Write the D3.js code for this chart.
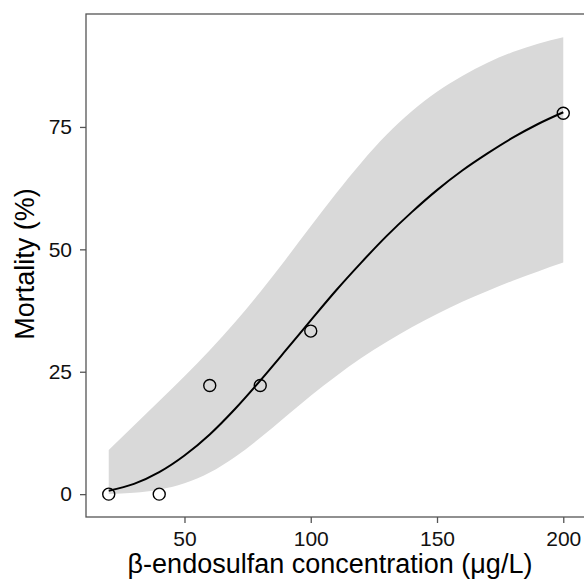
<!DOCTYPE html>
<html>
<head>
<meta charset="utf-8">
<script src="https://cdn.jsdelivr.net/npm/d3@7"></script>
<style>
	body { margin: 0; background: #fff; }
	text { font-family: "Liberation Sans", Arial, sans-serif; }
</style>
</head>
<body>
<div id="chart"></div>
<script>
// observed mortality
var doses = [20, 40, 60, 80, 100, 200];
var mortality = [0, 0, 22.2, 22.2, 33.3, 77.8];

// fitted curve and confidence band
var fitDose = [20, 30, 40, 50, 60, 70, 80, 90, 100, 110, 120, 130, 140, 150, 160, 170, 180, 190, 200];
var fitMean = [0.7, 2.1, 4.5, 7.9, 12.2, 17.4, 23.2, 29.3, 35.5, 41.6, 47.3, 52.7, 57.6, 62.1, 66.1, 69.6, 72.8, 75.6, 78.0];
var fitUpper = [9.0, 14.0, 19.0, 24.1, 29.4, 35.1, 41.3, 47.9, 54.7, 61.4, 67.7, 73.4, 78.2, 82.2, 85.4, 88.1, 90.3, 92.0, 93.3];
var fitLower = [0.05, 0.3, 0.9, 2.2, 4.4, 7.6, 11.5, 15.8, 20.1, 24.1, 27.8, 31.1, 34.1, 36.8, 39.3, 41.5, 43.6, 45.5, 47.3];

var xTicks = [50, 100, 150, 200];
var yTicks = [0, 25, 50, 75];

var width = 584, height = 583;
var panel = {left: 86, top: 14, right: 586, bottom: 517};

var svg = d3.select("#chart")
	.append("svg")
	.attr("width", width)
	.attr("height", height);

var x = d3.scaleLinear().domain([11, 209]).range([panel.left, panel.right]);
var y = d3.scaleLinear().domain([-4.67, 98.07]).range([panel.bottom, panel.top]);

var band = fitDose.map(function(d, i) {
	return {x: d, m: fitMean[i], lo: fitLower[i], hi: fitUpper[i]};
});

// confidence ribbon
svg.append("path")
	.datum(band)
	.attr("fill", "#d9d9d9")
	.attr("d", d3.area()
		.x(function(d) { return x(d.x); })
		.y0(function(d) { return y(d.lo); })
		.y1(function(d) { return y(d.hi); })
		.curve(d3.curveMonotoneX));

// fitted line
svg.append("path")
	.datum(band)
	.attr("fill", "none")
	.attr("stroke", "#000")
	.attr("stroke-width", 2)
	.attr("d", d3.line()
		.x(function(d) { return x(d.x); })
		.y(function(d) { return y(d.m); })
		.curve(d3.curveMonotoneX));

// points
svg.selectAll("circle.obs")
	.data(doses)
	.enter().append("circle")
	.attr("class", "obs")
	.attr("cx", function(d) { return x(d); })
	.attr("cy", function(d, i) { return y(mortality[i]); })
	.attr("r", 6)
	.attr("fill", "none")
	.attr("stroke", "#000")
	.attr("stroke-width", 1.4);

// panel border
svg.append("rect")
	.attr("x", panel.left)
	.attr("y", panel.top)
	.attr("width", panel.right - panel.left)
	.attr("height", panel.bottom - panel.top)
	.attr("fill", "none")
	.attr("stroke", "#555")
	.attr("stroke-width", 1.3);

// axes
var xAxis = svg.append("g")
	.attr("transform", "translate(0," + panel.bottom + ")")
	.call(d3.axisBottom(x).tickValues(xTicks).tickSize(6).tickPadding(8));
var yAxis = svg.append("g")
	.attr("transform", "translate(" + panel.left + ",0)")
	.call(d3.axisLeft(y).tickValues(yTicks).tickSize(6).tickPadding(8));

[xAxis, yAxis].forEach(function(g) {
	g.select(".domain").remove();
	g.selectAll(".tick line").attr("stroke", "#555").attr("stroke-width", 1.3);
	g.selectAll(".tick text")
		.attr("fill", "#111")
		.style("font-size", "21px")
		.style("font-family", "'Liberation Sans', Arial, sans-serif");
});

// axis titles
svg.append("text")
	.attr("x", 330)
	.attr("y", 573)
	.attr("text-anchor", "middle")
	.attr("fill", "#000")
	.style("font-size", "27px")
	.text("β-endosulfan concentration (μg/L)");

svg.append("text")
	.attr("transform", "translate(34,264) rotate(-90)")
	.attr("text-anchor", "middle")
	.attr("fill", "#000")
	.style("font-size", "27px")
	.text("Mortality (%)");
</script>
</body>
</html>
